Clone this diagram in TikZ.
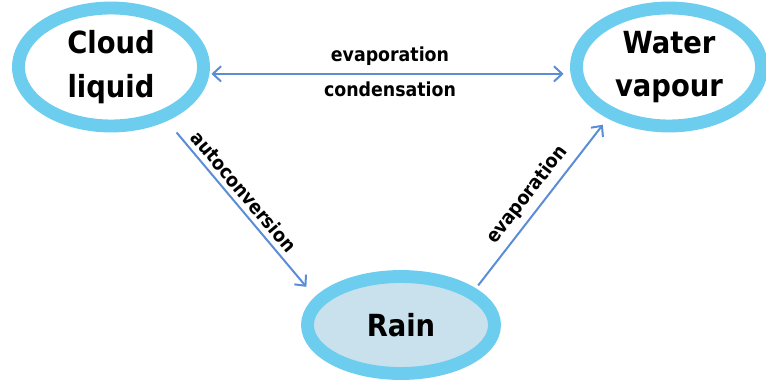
\documentclass[tikz,border=0pt]{standalone}
\usepackage{fontspec}
\setmainfont{DejaVu Sans Condensed}
\usepackage{tikz}
\usetikzlibrary{arrows.meta,shapes}
\definecolor{ringblue}{HTML}{6CCDEF}
\definecolor{rainfill}{HTML}{C9E1EC}
\definecolor{flowblue}{HTML}{5B8DD6}

\begin{document}
\begin{tikzpicture}[
phase/.style={
ellipse,
draw=ringblue,
line width=11pt,
inner sep=0pt,
minimum width=55.5mm,
minimum height=35.4mm,
align=center,
font=\fontsize{26}{37}\selectfont\bfseries
},
flow/.style={-{Straight Barb[length=7pt,width=13pt]},flowblue,line width=1.7pt},
tag/.style={text=black,font=\fontsize{16.5}{18}\selectfont\bfseries},]

\useasboundingbox (0,0) rectangle (22.98,-11.61);

\node (cloud) [phase] at (3.33,-2.01) {Cloud\\liquid};
\node (vapour) [phase,right of=cloud,node distance=167.4mm] {Water\\vapour};
\node (rain) [phase,below of=cloud,node distance=77.4mm,xshift=87mm,minimum width=56.1mm,minimum height=29.1mm,fill=rainfill] {Rain};
\draw[flow,{Straight Barb[length=7pt,width=13pt]}-{Straight Barb[length=7pt,width=13pt]},shorten <=0.6mm,shorten >=2.1mm] (cloud.-4) -- node[tag,above=3pt] {evaporation} node[tag,below=3pt] {condensation} (vapour.184);
\draw[flow,shorten <=4.5mm,shorten >=4mm] (cloud.-44) -- node[tag,pos=0.45,sloped,above=1pt] {autoconversion} (rain.162);
\draw[flow,shorten <=1.2mm,shorten >=2.4mm] (rain.26) -- node[tag,pos=0.49,sloped,above=2pt] {evaporation} (vapour.-140);
\end{tikzpicture}
\end{document}
